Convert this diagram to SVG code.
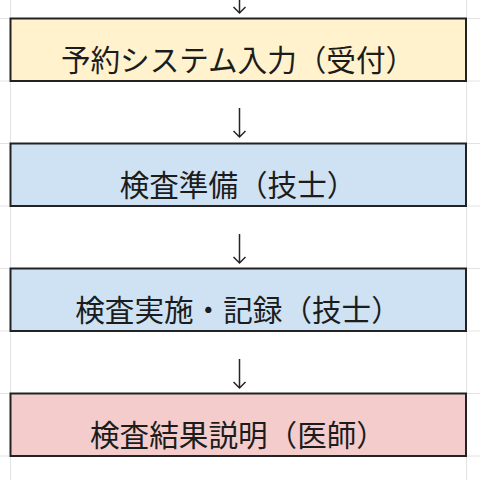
<svg xmlns="http://www.w3.org/2000/svg" width="480" height="480" viewBox="0 0 480 480">
<style>
.grid{stroke:#e2e2e2;stroke-width:1;fill:none}
.box{stroke:#222;stroke-width:2}
.lbl{font-family:"Noto Sans CJK JP","Noto Sans",sans-serif;font-size:29.6px;fill:#1c1c1c;text-anchor:middle}
.arr{stroke:#2a1f2a;stroke-width:1.5;fill:none}
</style>
<rect width="480" height="480" fill="#fff"/>
<g id="grid">
<path class="grid" d="M10.5 0V480M466.5 0V480M0 18.5H480M0 81H480M0 143.5H480M0 206H480M0 268.5H480M0 331H480M0 393.5H480M0 456H480"/>
</g>
<g id="connectors">
<path class="arr" d="M239.5 -16V13M233.5 7L239.5 13L245.5 7"/>
<path class="arr" d="M239.5 108V137M233.5 131L239.5 137L245.5 131"/>
<path class="arr" d="M239.5 234V263M233.5 257L239.5 263L245.5 257"/>
<path class="arr" d="M239.5 359V388M233.5 382L239.5 388L245.5 382"/>
</g>
<g id="n1">
<rect class="box" x="10.5" y="18.5" width="455.5" height="62.5" fill="#fff2cc"/>
<text class="lbl" x="238" y="70.5">予約システム入力（受付）</text>
</g>
<g id="n2">
<rect class="box" x="10.5" y="143.5" width="455.5" height="62.5" fill="#cfe2f3"/>
<text class="lbl" x="238" y="195.5">検査準備（技士）</text>
</g>
<g id="n3">
<rect class="box" x="10.5" y="268.5" width="455.5" height="62.5" fill="#cfe2f3"/>
<text class="lbl" x="238" y="320.5">検査実施・記録（技士）</text>
</g>
<g id="n4">
<rect class="box" x="10.5" y="393.5" width="455.5" height="62.5" fill="#f4cccc"/>
<text class="lbl" x="238" y="445.5">検査結果説明（医師）</text>
</g>
</svg>
